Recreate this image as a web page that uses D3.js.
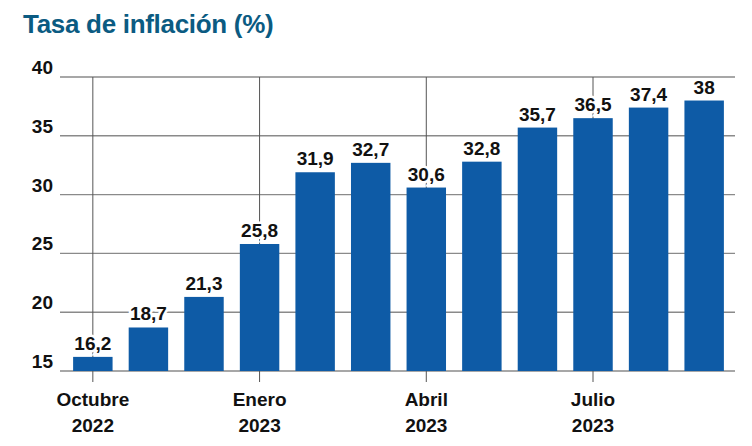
<!DOCTYPE html>
<html>
<head>
<meta charset="utf-8">
<script src="https://cdn.jsdelivr.net/npm/d3@7"></script>
<style>
  body { margin: 0; background: #fff; }
  text { font-family: "Liberation Sans", "Arial", sans-serif; }
</style>
</head>
<body>
<div id="chart"></div>
<script>
// months Oct 2022 .. Sep 2023
const months = ["2022-10", "2022-11", "2022-12", "2023-01", "2023-02", "2023-03",
                "2023-04", "2023-05", "2023-06", "2023-07", "2023-08", "2023-09"];
const rates = [16.2, 18.7, 21.3, 25.8, 31.9, 32.7, 30.6, 32.8, 35.7, 36.5, 37.4, 38];
const yTicks = [15, 20, 25, 30, 35, 40];
const monthLabels = [
    { month: "2022-10", name: "Octubre", year: "2022" },
    { month: "2023-01", name: "Enero", year: "2023" },
    { month: "2023-04", name: "Abril", year: "2023" },
    { month: "2023-07", name: "Julio", year: "2023" }
];

const width = 752, height = 446;
const svg = d3.select("#chart").append("svg")
    .attr("width", width)
    .attr("height", height);

svg.append("text")
    .attr("x", 23).attr("y", 33)
    .style("fill", "#0b5b82")
    .style("font-size", "26px")
    .style("font-weight", "bold")
    .style("letter-spacing", "-0.3px")
    .text("Tasa de inflación (%)");

const x = d3.scaleBand().domain(months).range([62, 735])
    .paddingInner(0.29).paddingOuter(0.2);
const y = d3.scaleLinear().domain([15, 40]).range([371, 77]);

// horizontal grid
svg.append("g").selectAll("line").data(yTicks).join("line")
    .attr("x1", 60).attr("x2", 735)
    .attr("y1", d => y(d)).attr("y2", d => y(d))
    .style("stroke", "#8a8a8a")
    .style("stroke-width", 1.4);

svg.append("g").selectAll("text").data(yTicks).join("text")
    .attr("x", 53).attr("y", d => y(d) - 3)
    .attr("text-anchor", "end")
    .style("font-size", "19px").style("font-weight", "bold")
    .style("fill", "#111")
    .text(d => d);

// vertical month lines
svg.append("g").selectAll("line").data(monthLabels).join("line")
    .attr("x1", d => x(d.month) + x.bandwidth() / 2)
    .attr("x2", d => x(d.month) + x.bandwidth() / 2)
    .attr("y1", y(40)).attr("y2", y(15) + 11)
    .style("stroke", "#555")
    .style("stroke-width", 1);

// bars
svg.append("g").selectAll("rect").data(rates).join("rect")
    .attr("x", (d, i) => x(months[i]))
    .attr("width", x.bandwidth())
    .attr("y", d => y(d))
    .attr("height", d => y(15) - y(d))
    .style("fill", "#0e5ba6");

// value labels with white halo
svg.append("g").selectAll("text").data(rates).join("text")
    .attr("x", (d, i) => x(months[i]) + x.bandwidth() / 2)
    .attr("y", d => y(d) - 7)
    .attr("text-anchor", "middle")
    .style("font-size", "19px").style("font-weight", "bold")
    .style("fill", "#111")
    .style("stroke", "#fff").style("stroke-width", 5)
    .style("paint-order", "stroke")
    .text(d => String(d).replace(".", ","));

// x labels
const xl = svg.append("g").selectAll("g").data(monthLabels).join("g")
    .attr("transform", d => `translate(${x(d.month) + x.bandwidth() / 2},0)`);
xl.append("text").attr("y", 406).attr("text-anchor", "middle")
    .style("font-size", "19px").style("font-weight", "bold").style("fill", "#111")
    .text(d => d.name);
xl.append("text").attr("y", 432).attr("text-anchor", "middle")
    .style("font-size", "19px").style("font-weight", "bold").style("fill", "#111")
    .text(d => d.year);
</script>
</body>
</html>
